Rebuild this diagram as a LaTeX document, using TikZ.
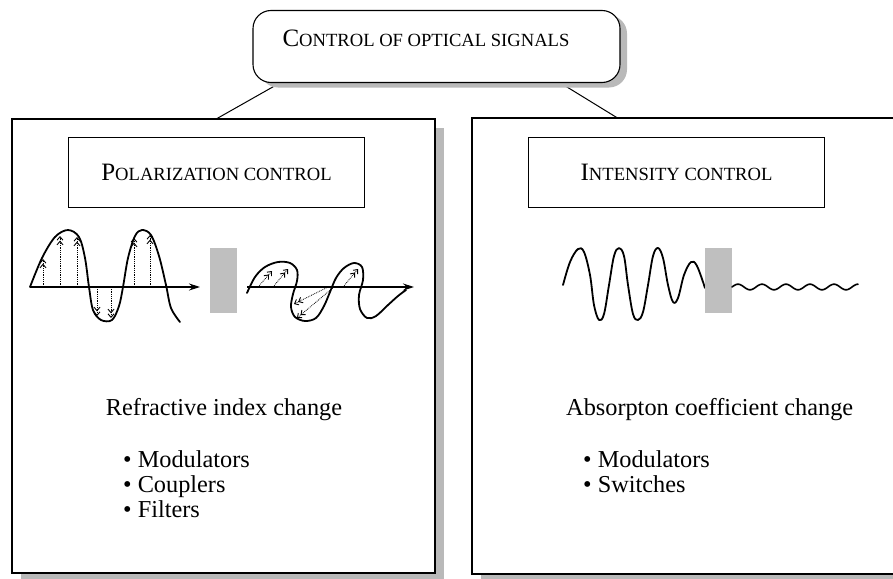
\documentclass[tikz,border=0pt]{standalone}
\usepackage{fontspec}
\setmainfont{Liberation Serif}
\usetikzlibrary{arrows.meta,calc,shadows,backgrounds}

% hand-made small capitals: large initial, smaller capitals after it
\newcommand{\capbig}[1]{{\fontsize{25}{30}\selectfont #1}}
\newcommand{\capsmall}[1]{{\fontsize{18.6}{22}\selectfont #1}}

\tikzset{
  panel/.style={draw, rectangle, line width=1.1pt, fill=white, inner sep=0pt,
                drop shadow={shadow xshift=9pt, shadow yshift=-9pt, fill=gray!55, opacity=1}},
  headbox/.style={draw, rectangle, rounded corners=18pt, line width=1.1pt, fill=white, inner sep=0pt,
                  drop shadow={shadow xshift=7pt, shadow yshift=-5pt, fill=gray!55, opacity=1}},
  titlebox/.style={draw, rectangle, line width=1pt, fill=white, inner sep=0pt,
                   minimum width=296pt, minimum height=70pt},
  body/.style={font=\fontsize{24.3}{29}\selectfont, inner sep=0pt},
  link/.style={line width=1pt},
  wave/.style={line width=1.8pt, line join=round, line cap=round},
  axis/.style={line width=1.2pt, -{Stealth[length=11pt,width=7pt]}},
  pol/.style={line width=0.8pt, densely dotted,
              -{Straight Barb[length=3.5pt,width=6pt,line width=0.9pt]Straight Barb[length=3.5pt,width=6pt,line width=0.9pt]}},
  filter/.style={fill=gray!50, draw=none},
}

\begin{document}
\begin{tikzpicture}[x=1pt,y=-1pt]
\useasboundingbox (0,0) rectangle (893,578);
\clip (0,0) rectangle (893,578);

% ---- boxes ----
\node[headbox, minimum width=367pt, minimum height=72pt] (top) at (436.5,46.5) {};
\node[panel, minimum width=423pt, minimum height=454pt] (left) at (223.5,346) {};
\node[panel, minimum width=478pt, minimum height=456pt] (right) at (711,346) {};

\node[anchor=base, inner sep=0pt] (toptext) at (426,47)
  {\capbig{C}\capsmall{ONTROL OF OPTICAL SIGNALS}};

% ---- connectors, kept under the shadows ----
\begin{scope}[on background layer]
  \draw[link] ($(top.south west)!0.074!(top.south east)$) -- ($(left.north west)!0.485!(left.north east)$);
  \draw[link] ($(top.south west)!0.837!(top.south east)$) -- ($(right.north west)!0.303!(right.north east)$);
\end{scope}

% ---- panel titles ----
\node[titlebox] (ptitle) at (216.5,172) {\capbig{P}\capsmall{OLARIZATION CONTROL}};
\node[titlebox] (ititle) at (676.5,172) {\capbig{I}\capsmall{NTENSITY CONTROL}};

% ---- polarization: linear wave ----
\draw[axis] (30,287) -- (200,287);
\draw[wave] plot[smooth, tension=0.55] coordinates {
  (30,287) (42,258) (55,237) (68,230) (79,237) (85,258) (89,287) (93,310)
  (101,320) (112,320) (119,306) (123,287) (128,258) (135,236) (142,230)
  (151,235) (159,256) (166,285) (171,308) (180,322)};
\foreach \x/\y in {43/259, 60/236, 77/237, 134/238, 150/235, 97/316, 111/318}
  \draw[pol] (\x,287) -- (\x,\y);

% polarizing element
\fill[filter] (210,248) rectangle (237,313);

% ---- polarization: rotated wave ----
\draw[axis] (247,287) -- (414,287);
\draw[wave] plot[smooth, tension=0.55] coordinates {
  (247,293) (255,277) (265,267) (278,262) (290,263) (297,270) (297,281)
  (293,294) (291,307) (295,317) (305,321) (316,318) (324,306) (330,292)
  (336,278) (344,268) (354,263) (362,267) (363,280) (359,295) (360,309)
  (367,318) (376,316) (388,305) (398,296) (406,290)};
\foreach \a/\b/\c/\d in {258/287/272/271, 273/287/288/269, 328/287/294/304,
                         334/287/297/318, 343/287/358/269}
  \draw[pol] (\a,\b) -- (\c,\d);

% ---- intensity: absorbed wave ----
\draw[wave] plot[smooth, tension=0.6] coordinates {
  (563,285) (570,262) (578,249) (584,252) (590,275) (594,305) (599,320)
  (604,314) (609,285) (614,256) (619,248) (624,256) (628,285) (633,314)
  (638,320) (643,312) (648,285) (653,256) (658,248) (663,258) (668,285)
  (673,302) (678,298) (684,275) (691,262) (697,266) (705,288)};
\fill[filter] (705,248) rectangle (732,313);
\draw[wave, line width=1.6pt] plot[domain=0:126, samples=150, smooth]
  ({732+\x},{287-2.8*sin(15*\x)});

% ---- texts ----
\node[body, anchor=base] (refr) at (224,415) {Refractive index change};
\node[body, anchor=base west] (l1) at (123,467) {\textbullet\ Modulators};
\node[body, anchor=base west] (l2) at (123,492) {\textbullet\ Couplers};
\node[body, anchor=base west] (l3) at (123,517) {\textbullet\ Filters};

\node[body, anchor=base west] (absb) at (566,415) {Absorpton coefficient change};
\node[body, anchor=base west] (r1) at (583,467) {\textbullet\ Modulators};
\node[body, anchor=base west] (r2) at (583,492) {\textbullet\ Switches};

\end{tikzpicture}
\end{document}
